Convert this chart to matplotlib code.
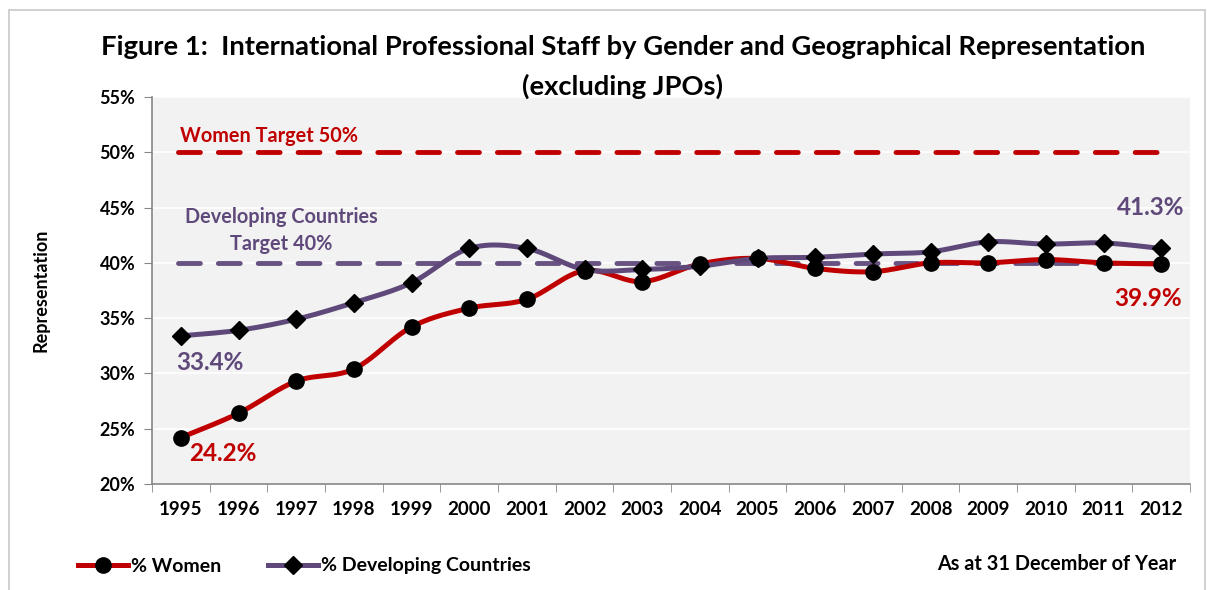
import numpy as np
import matplotlib
matplotlib.use("Agg")
import matplotlib.pyplot as plt
from matplotlib.lines import Line2D
from matplotlib.patches import Rectangle

years = ["1995", "1996", "1997", "1998", "1999", "2000", "2001", "2002", "2003",
         "2004", "2005", "2006", "2007", "2008", "2009", "2010", "2011", "2012"]
women = [24.2, 26.4, 29.3, 30.4, 34.2, 35.9, 36.7, 39.3, 38.3,
         39.9, 40.4, 39.5, 39.2, 40.0, 40.0, 40.3, 40.0, 39.9]
developing = [33.4, 33.9, 34.9, 36.4, 38.2, 41.3, 41.3, 39.4, 39.4,
              39.7, 40.4, 40.5, 40.8, 41.0, 41.9, 41.7, 41.8, 41.3]
women_target = 50
dev_target = 40
yticks = [20, 25, 30, 35, 40, 45, 50, 55]

RED = "#C00000"
PURPLE = "#5F497A"
FONT = "Lato"

plt.rcParams['font.family'] = [FONT, 'DejaVu Sans']

def smooth(x, y, n=30):
    x = np.asarray(x, float); y = np.asarray(y, float)
    P = np.column_stack([x, y])
    out = []
    for i in range(len(P) - 1):
        p0 = P[i - 1] if i > 0 else P[i]
        p1 = P[i]; p2 = P[i + 1]
        p3 = P[i + 2] if i + 2 < len(P) else P[i + 1]
        c1 = p1 + (p2 - p0) / 6.0
        c2 = p2 - (p3 - p1) / 6.0
        t = np.linspace(0, 1, n)[:, None]
        seg = (1 - t) ** 3 * p1 + 3 * (1 - t) ** 2 * t * c1 + 3 * (1 - t) * t ** 2 * c2 + t ** 3 * p2
        out.append(seg if i == 0 else seg[1:])
    s = np.vstack(out)
    return s[:, 0], s[:, 1]

fig = plt.figure(figsize=(12.07, 5.90), dpi=100)
fig.patch.set_facecolor("white")
# outer frame
fig.add_artist(Rectangle((9/1207, -0.1), (1205-9)/1207, 1.1 - 10/590, transform=fig.transFigure,
                         fill=False, edgecolor="#C8C8C8", linewidth=1.2))

ax = fig.add_axes([152/1207, 1 - 484/590, (1190 - 152)/1207, (484 - 97)/590])
ax.set_facecolor("#F2F2F2")
x = np.arange(len(years))
ax.set_xlim(-0.5, len(years) - 0.5)
ax.set_ylim(20, 55)
ax.set_yticks(yticks)
ax.set_yticklabels([f"{v}%" for v in yticks], fontsize=13, fontweight="bold")
ax.set_xticks(x)
ax.set_xticklabels(years, fontsize=13.5, fontweight="bold")
ax.set_xticks(np.arange(-0.5, len(years)), minor=True)
ax.tick_params(axis="x", which="major", length=0, pad=12)
ax.tick_params(axis="x", which="minor", length=6, direction="out", color="#868686")
ax.tick_params(axis="y", length=6, direction="out", color="#868686", pad=6)
ax.grid(axis="y", color="white", linewidth=1.2)
ax.set_axisbelow(True)
for s in ["top", "right"]:
    ax.spines[s].set_visible(False)
for s in ["left", "bottom"]:
    ax.spines[s].set_color("#868686")
    ax.spines[s].set_linewidth(1.2)

ax.set_ylabel("Representation", fontsize=13, fontweight="bold", labelpad=36)

# target lines
ax.plot([x[0] - 0.05, x[-1] + 0.05], [women_target] * 2, color=RED, lw=3.5,
        dashes=(4.5, 3.7), dash_capstyle="round")
ax.plot([x[0] - 0.05, x[-1] + 0.05], [dev_target] * 2, color=PURPLE, lw=3.5,
        dashes=(4.5, 3.7), dash_capstyle="round", alpha=0.95)

# series
sx, sy = smooth(x, developing)
ax.plot(sx, sy, color=PURPLE, lw=3.6, solid_capstyle="round", zorder=4)
ax.plot(x, developing, linestyle="none", marker="D", markersize=9, color="black", zorder=5)
sx, sy = smooth(x, women)
ax.plot(sx, sy, color=RED, lw=3.6, solid_capstyle="round", zorder=3)
ax.plot(x, women, linestyle="none", marker="o", markersize=11, color="black", zorder=5)

# annotations
ax.text(-0.02, 51.5, "Women Target 50%", color=RED, fontsize=14.3, fontweight="bold", ha="left", va="center")
ax.text(1.74, 42.9, "Developing Countries\nTarget 40%", color=PURPLE, fontsize=14.3, fontweight="bold",
        ha="center", va="center", linespacing=1.45)
ax.text(0.5, 31.0, f"{developing[0]}%", color=PURPLE, fontsize=17.5, fontweight="bold", ha="center", va="center")
ax.text(0.73, 22.8, f"{women[0]}%", color=RED, fontsize=17.5, fontweight="bold", ha="center", va="center")
ax.text(16.82, 45.05, f"{developing[-1]}%", color=PURPLE, fontsize=17.5, fontweight="bold", ha="center", va="center")
ax.text(16.77, 36.8, f"{women[-1]}%", color=RED, fontsize=17.5, fontweight="bold", ha="center", va="center")

fig.text(623/1207, 1 - 47/590, "Figure 1:  International Professional Staff by Gender and Geographical Representation",
         fontsize=19.7, fontweight="bold", ha="center", va="center")
fig.text(623/1207, 1 - 86/590, "(excluding JPOs)", fontsize=19.7, fontweight="bold", ha="center", va="center")

handles = [
    Line2D([], [], color=RED, lw=3.6, marker="o", markersize=11, markerfacecolor="black", markeredgecolor="black"),
    Line2D([], [], color=PURPLE, lw=3.6, marker="D", markersize=9, markerfacecolor="black", markeredgecolor="black"),
]
fig.legend(handles, ["% Women", "% Developing Countries"], loc="center left",
           bbox_to_anchor=(60/1207, 1 - 566/590), ncol=2, frameon=False,
           prop={"family": FONT, "weight": "bold", "size": 14}, handlelength=2.6,
           handletextpad=0.15, columnspacing=2.4)
fig.text(1176/1207, 1 - 564/590, "As at 31 December of Year", fontsize=14.3, fontweight="bold",
         ha="right", va="center")

fig.savefig("out.png", dpi=100, facecolor="white")
